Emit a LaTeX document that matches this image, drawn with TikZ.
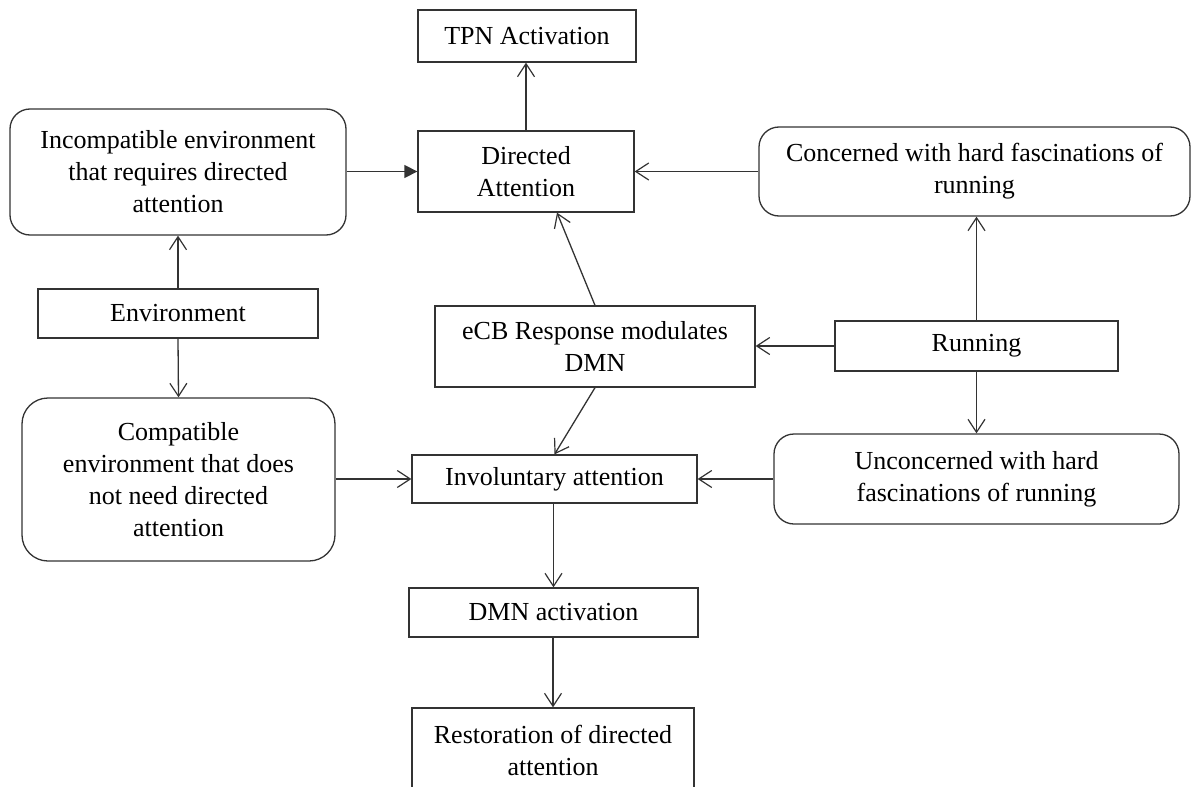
\documentclass[tikz,border=0pt]{standalone}
\usepackage{fontspec}
\setmainfont{Liberation Serif}
\usetikzlibrary{arrows.meta}
\begin{document}
\begin{tikzpicture}[x=1pt,y=-1pt,
  box/.style={draw=black!80,line width=1.3pt,inner sep=0pt,align=center,
    font=\fontsize{26}{32}\selectfont},
  rbox/.style={box,rounded corners=20pt},
  conn/.style={draw=black!80,line width=1.3pt,-{Straight Barb[length=13pt,width=17pt,line width=1.2pt]}},
  fconn/.style={draw=black!80,line width=1.3pt,-{Triangle[length=13pt,width=13pt]}}]
\useasboundingbox (0,0) rectangle (1192,787);
\node[box,minimum width=218,minimum height=52] (tpn) at (527,36) {TPN Activation};
\node[box,minimum width=216,minimum height=81] (dir) at (526,171.5) {Directed\\Attention};
\node[rbox,minimum width=336,minimum height=126] (inc) at (178,172) {Incompatible environment\\that requires directed\\attention};
\node[rbox,minimum width=431,minimum height=89] (con) at (974.5,171.5) {Concerned with hard fascinations of\\running};
\node[box,minimum width=280,minimum height=49] (env) at (178,313.5) {Environment};
\node[box,minimum width=320,minimum height=81] (ecb) at (595,346.5) {eCB Response modulates\\DMN};
\node[box,minimum width=283,minimum height=50] (run) at (976.5,346) {Running};
\node[rbox,rounded corners=26pt,minimum width=313,minimum height=163] (cmp) at (178.5,479.5) {Compatible\\environment that does\\not need directed\\attention};
\node[box,minimum width=285,minimum height=48] (inv) at (554.5,479) {Involuntary attention};
\node[rbox,minimum width=405,minimum height=90] (unc) at (976.5,479) {Unconcerned with hard\\fascinations of running};
\node[box,minimum width=289,minimum height=49] (dmn) at (553.5,612.5) {DMN activation};
\node[box,minimum width=282,minimum height=84] (res) at (553,750) {Restoration of directed\\attention};
\draw[conn] (dir.north) -- (dir.north |- tpn.south);
\draw[fconn] (inc.east |- dir.west) -- (dir.west);
\draw[conn] (con.west) -- (dir.east |- con.west);
\draw[conn] (env.north) -- (inc.south);
\draw[conn] (env.south) -- (cmp.north);
\draw[conn] (ecb.north) -- ([xshift=31pt]dir.south);
\draw[conn] (run.west) -- (ecb.east |- run.west);
\draw[conn] (run.north) -- (run.north |- con.south);
\draw[conn] (run.south) -- (run.south |- unc.north);
\draw[conn] (ecb.south) -- (inv.north);
\draw[conn] (cmp.east |- inv.west) -- (inv.west);
\draw[conn] (unc.west) -- (inv.east);
\draw[conn] (dmn.north |- inv.south) -- (dmn.north);
\draw[conn] (res.north |- dmn.south) -- (res.north);
\end{tikzpicture}
\end{document}
